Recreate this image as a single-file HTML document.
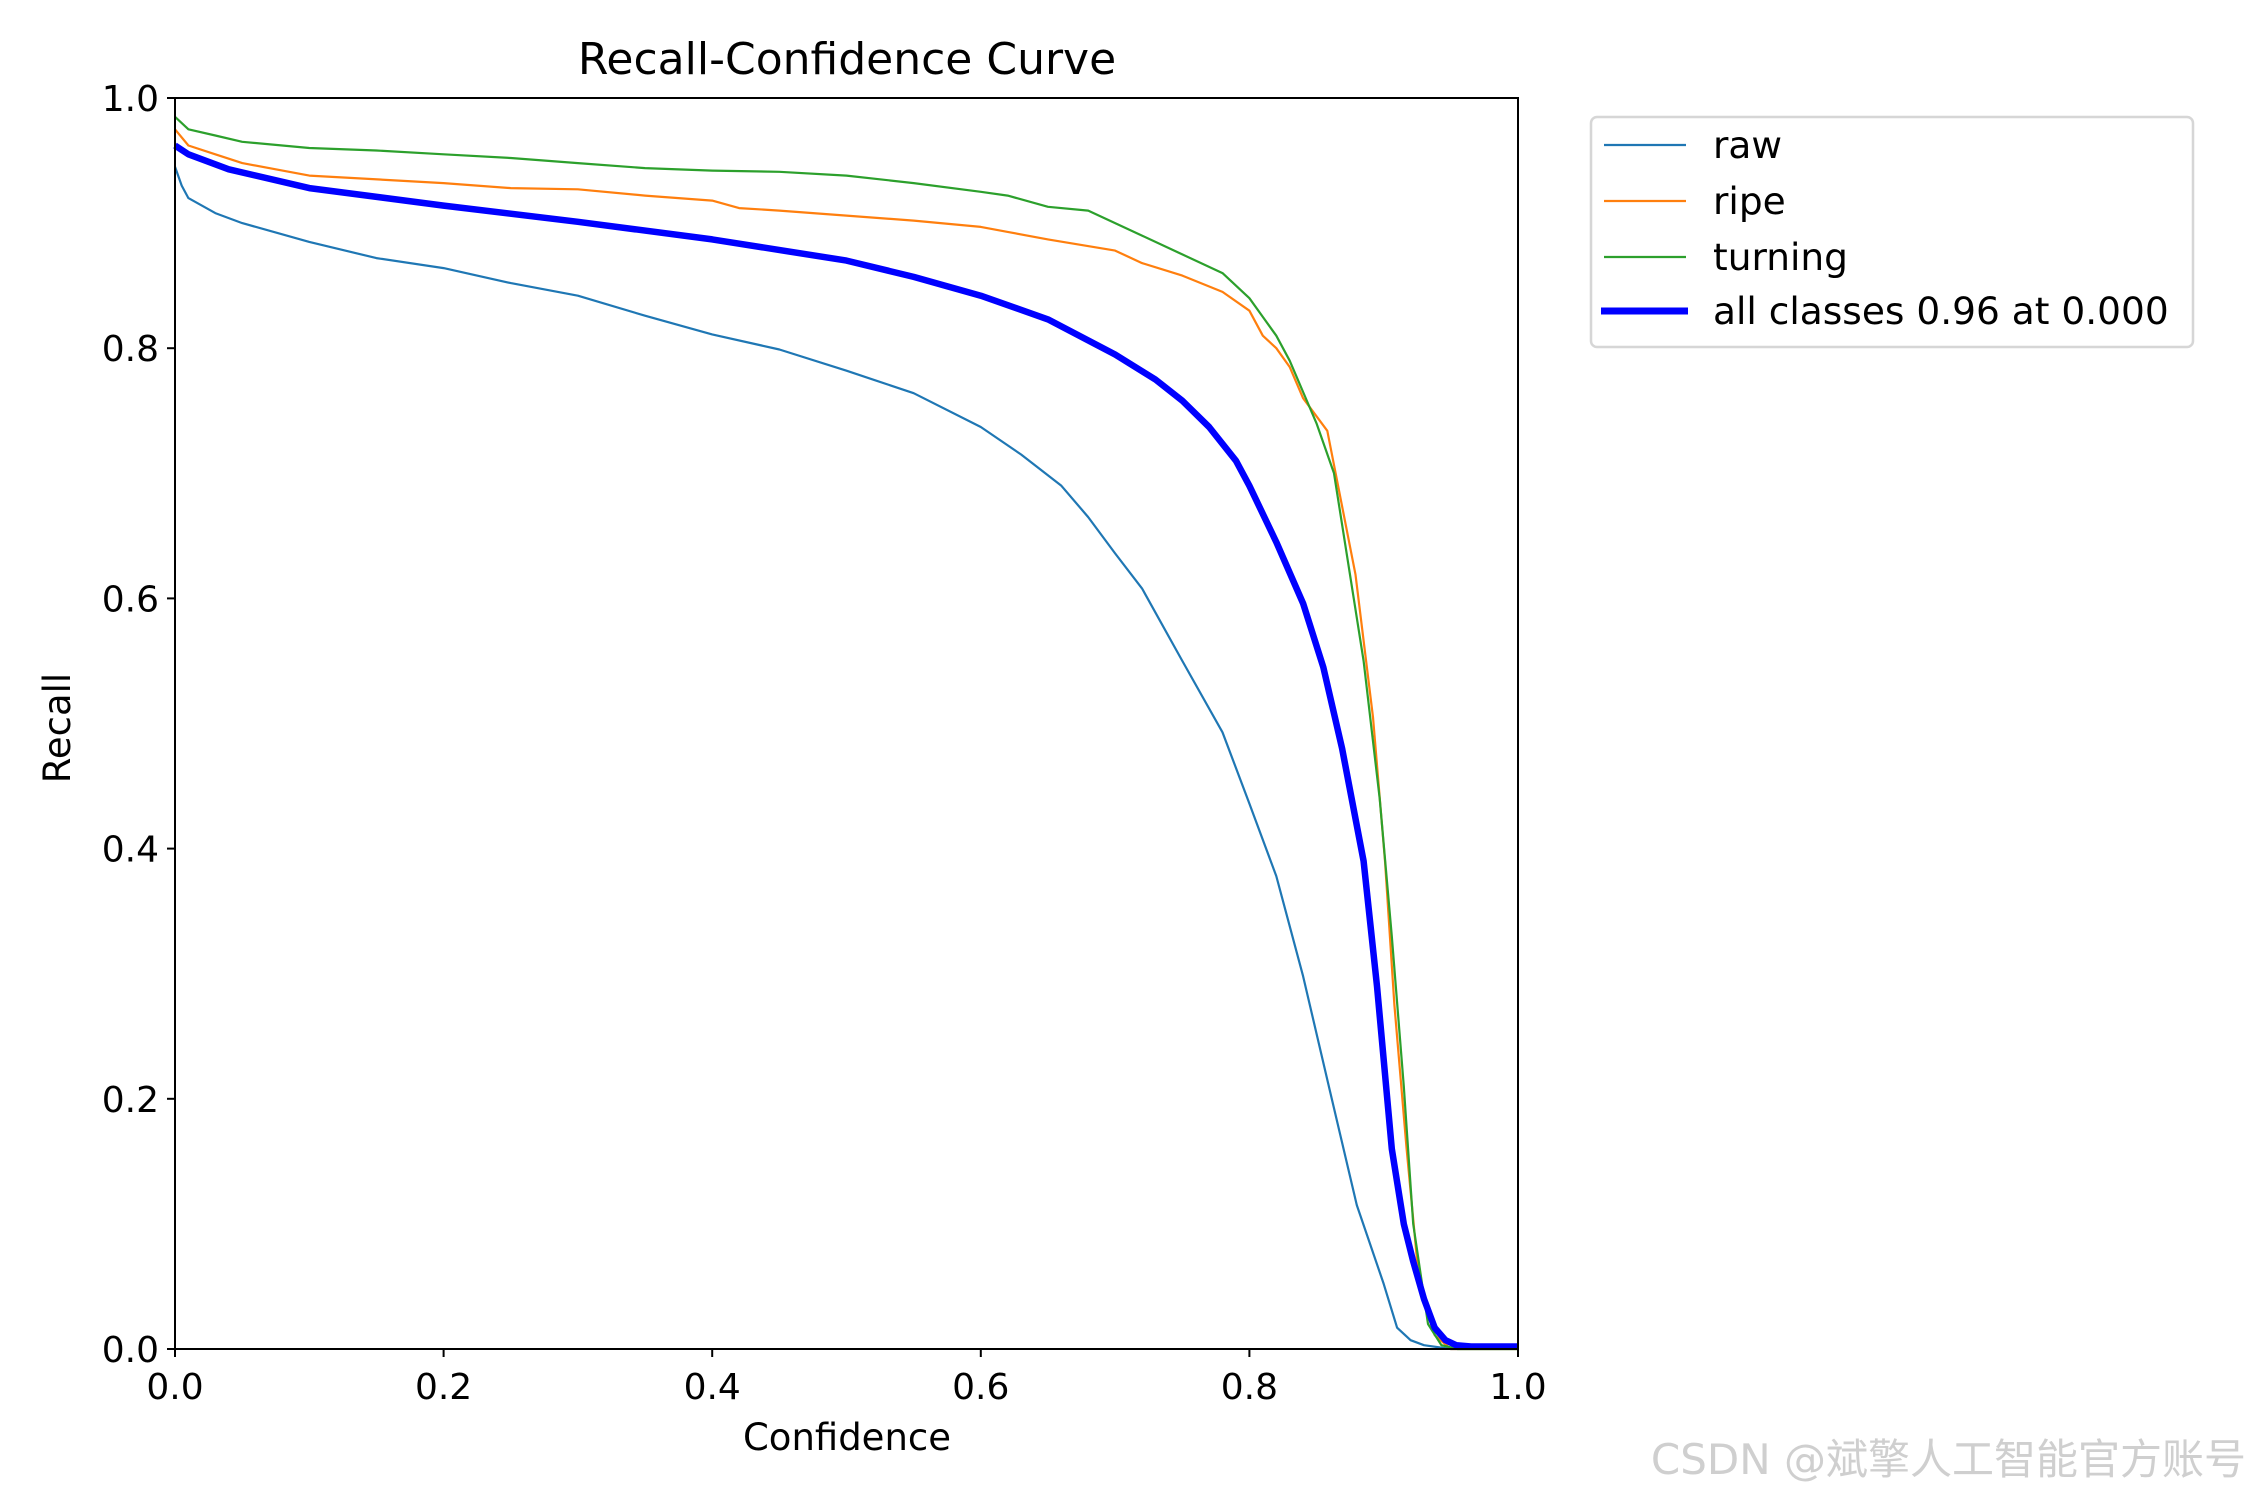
<!DOCTYPE html>
<html><head><meta charset="utf-8"><style>
html,body{margin:0;padding:0;background:#fff;}
svg{display:block;font-family:"DejaVu Sans","Liberation Sans","Noto Sans CJK SC",sans-serif;}
</style></head><body>
<svg id="chart" width="2250" height="1500" viewBox="0 0 2250 1500">
<rect width="2250" height="1500" fill="#fff"/>
<text x="847" y="74" font-size="44" text-anchor="middle">Recall-Confidence Curve</text>
<g id="plot"></g>
<g id="axes"></g>
<text x="847" y="1450" font-size="37" text-anchor="middle">Confidence</text>
<text x="0" y="0" font-size="37" text-anchor="middle" transform="translate(70,728) rotate(-90)">Recall</text>
<g>
<rect x="1591" y="117" width="602" height="230" rx="6" fill="#fff" stroke="#d6d6d6" stroke-width="2.5"/>
<line x1="1604" y1="145" x2="1686" y2="145" stroke="#1f77b4" stroke-width="2.2"/>
<text x="1713" y="158" font-size="37.5">raw</text>
<line x1="1604" y1="201" x2="1686" y2="201" stroke="#ff7f0e" stroke-width="2.2"/>
<text x="1713" y="214" font-size="37.5">ripe</text>
<line x1="1604" y1="257" x2="1686" y2="257" stroke="#2ca02c" stroke-width="2.2"/>
<text x="1713" y="270" font-size="37.5">turning</text>
<line x1="1601" y1="311" x2="1688" y2="311" stroke="#0000ff" stroke-width="7"/>
<text x="1713" y="324" font-size="37.5">all classes 0.96 at 0.000</text>
</g>
<text x="2246" y="1474" font-size="42" fill="#cfcfcf" text-anchor="end">CSDN @斌擎人工智能官方账号</text>
</svg>
<script>
const xTicks = [0, 0.2, 0.4, 0.6, 0.8, 1.0];
const yTicks = [0, 0.2, 0.4, 0.6, 0.8, 1.0];
const tickLabels = ["0.0", "0.2", "0.4", "0.6", "0.8", "1.0"];
const rawX = [0,0.005,0.01,0.03,0.05,0.1,0.15,0.2,0.25,0.3,0.35,0.4,0.45,0.5,0.55,0.6,0.63,0.66,0.68,0.7,0.72,0.75,0.78,0.8,0.82,0.84,0.86,0.88,0.9,0.91,0.92,0.93,0.95,1.0];
const rawY = [0.945,0.93,0.92,0.908,0.9,0.885,0.872,0.864,0.852,0.842,0.826,0.811,0.799,0.782,0.764,0.737,0.715,0.69,0.665,0.636,0.608,0.55,0.493,0.436,0.378,0.298,0.206,0.115,0.052,0.017,0.007,0.003,0,0];
const ripeX = [0,0.01,0.03,0.05,0.08,0.1,0.2,0.25,0.3,0.35,0.4,0.42,0.45,0.5,0.55,0.6,0.62,0.65,0.7,0.72,0.75,0.78,0.8,0.81,0.82,0.83,0.84,0.858,0.879,0.892,0.901,0.908,0.917,0.927,0.938,0.95,1.0];
const ripeY = [0.975,0.962,0.955,0.948,0.942,0.938,0.932,0.928,0.927,0.922,0.918,0.912,0.91,0.906,0.902,0.897,0.893,0.887,0.878,0.868,0.858,0.845,0.83,0.81,0.80,0.785,0.76,0.734,0.619,0.505,0.39,0.275,0.161,0.046,0.011,0,0];
const turningX = [0,0.01,0.03,0.05,0.1,0.15,0.2,0.25,0.3,0.35,0.4,0.45,0.5,0.55,0.6,0.62,0.65,0.68,0.7,0.72,0.75,0.78,0.8,0.81,0.82,0.83,0.84,0.85,0.863,0.885,0.897,0.906,0.915,0.922,0.933,0.943,0.955,1.0];
const turningY = [0.985,0.975,0.97,0.965,0.96,0.958,0.955,0.952,0.948,0.944,0.942,0.941,0.938,0.932,0.925,0.922,0.913,0.91,0.9,0.89,0.875,0.86,0.84,0.825,0.81,0.79,0.765,0.74,0.70,0.55,0.44,0.33,0.21,0.10,0.02,0.003,0,0];
const allX = [0,0.01,0.04,0.1,0.2,0.3,0.4,0.5,0.55,0.6,0.65,0.7,0.73,0.75,0.77,0.79,0.8,0.82,0.84,0.855,0.869,0.885,0.895,0.906,0.915,0.922,0.93,0.938,0.946,0.954,0.965,1.0];
const allY = [0.962,0.955,0.943,0.928,0.914,0.901,0.887,0.870,0.857,0.842,0.823,0.795,0.775,0.758,0.737,0.71,0.69,0.645,0.596,0.545,0.48,0.39,0.29,0.16,0.10,0.07,0.04,0.017,0.007,0.003,0.002,0.002];

const L = 175, R = 1518, T = 98, B = 1349;
const sx = v => L + v * (R - L);
const sy = v => B - v * (B - T);
const NS = "http://www.w3.org/2000/svg";
const plot = document.getElementById("plot");
const axes = document.getElementById("axes");

function drawSeries(xs, ys, color, w, name) {
  const p = document.createElementNS(NS, "path");
  let d = "";
  for (let i = 0; i < xs.length; i++) {
    d += (i ? "L" : "M") + sx(xs[i]).toFixed(1) + "," + sy(ys[i]).toFixed(1);
  }
  p.setAttribute("d", d);
  p.setAttribute("fill", "none");
  p.setAttribute("stroke", color);
  p.setAttribute("stroke-width", w);
  p.setAttribute("stroke-linejoin", "round");
  
  
  plot.appendChild(p);
}
drawSeries(rawX, rawY, "#1f77b4", 2.2, "line-raw");
drawSeries(ripeX, ripeY, "#ff7f0e", 2.2, "line-ripe");
drawSeries(turningX, turningY, "#2ca02c", 2.2, "line-turning");
drawSeries(allX, allY, "#0000ff", 6.5, "line-all-classes");

const frame = document.createElementNS(NS, "rect");
frame.setAttribute("x", L); frame.setAttribute("y", T);
frame.setAttribute("width", R - L); frame.setAttribute("height", B - T);
frame.setAttribute("fill", "none"); frame.setAttribute("stroke", "#000"); frame.setAttribute("stroke-width", "2");


axes.appendChild(frame);

xTicks.forEach((v, i) => {
  const t = document.createElementNS(NS, "line");
  t.setAttribute("x1", sx(v)); t.setAttribute("x2", sx(v));
  t.setAttribute("y1", B); t.setAttribute("y2", B + 8);
  t.setAttribute("stroke", "#000"); t.setAttribute("stroke-width", "2");
  
  
  axes.appendChild(t);
  const lb = document.createElementNS(NS, "text");
  lb.setAttribute("x", sx(v)); lb.setAttribute("y", B + 50);
  lb.setAttribute("font-size", "36"); lb.setAttribute("text-anchor", "middle");
  lb.textContent = tickLabels[i];
  
  
  axes.appendChild(lb);
});
yTicks.forEach((v, i) => {
  const t = document.createElementNS(NS, "line");
  t.setAttribute("x1", L - 8); t.setAttribute("x2", L);
  t.setAttribute("y1", sy(v)); t.setAttribute("y2", sy(v));
  t.setAttribute("stroke", "#000"); t.setAttribute("stroke-width", "2");
  
  
  axes.appendChild(t);
  const lb = document.createElementNS(NS, "text");
  lb.setAttribute("x", L - 16); lb.setAttribute("y", sy(v) + 13);
  lb.setAttribute("font-size", "36"); lb.setAttribute("text-anchor", "end");
  lb.textContent = tickLabels[i];
  
  
  axes.appendChild(lb);
});
</script>
</body></html>
